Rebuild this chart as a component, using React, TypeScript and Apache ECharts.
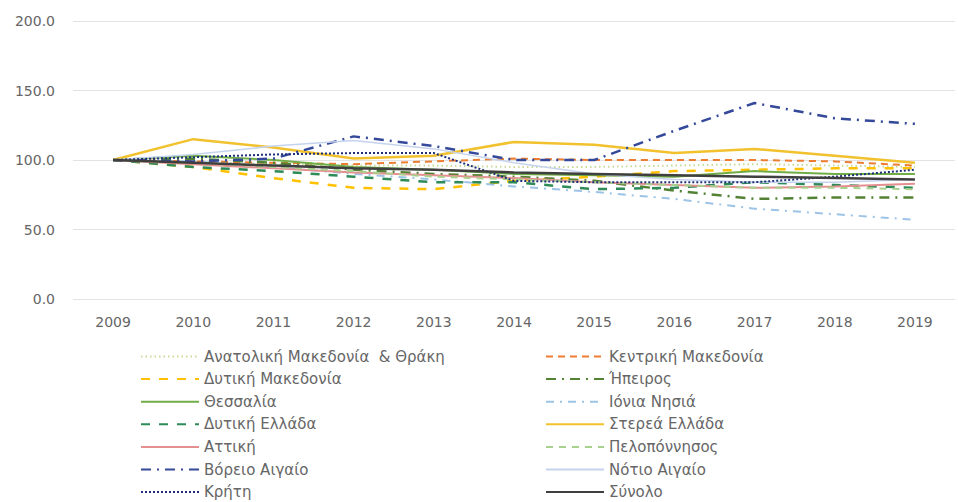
import React, { useEffect, useRef } from "react";
import * as echarts from "echarts";

const years = ["2009", "2010", "2011", "2012", "2013", "2014", "2015", "2016", "2017", "2018", "2019"];

const anatolikiMakedonia = [100, 99, 97, 96, 96, 95, 95, 96, 97, 96, 95];
const kentrikiMakedonia = [100, 99, 98, 97, 99, 101, 100, 100, 100, 99, 96];
const dytikiMakedonia = [100, 95, 87, 80, 79, 85, 88, 92, 93, 94, 94];
const ipeiros = [100, 101, 98, 93, 90, 88, 85, 78, 72, 73, 73];
const thessalia = [100, 103, 100, 95, 93, 90, 89, 88, 92, 90, 90];
const ioniaNisia = [100, 99, 95, 90, 86, 81, 77, 72, 65, 61, 57];
const dytikiEllada = [100, 95, 92, 88, 84, 84, 79, 80, 84, 82, 80];
const stereaEllada = [100, 115, 109, 101, 103, 113, 111, 105, 108, 103, 98];
const attiki = [100, 97, 94, 91, 89, 87, 84, 82, 80, 81, 83];
const peloponnisos = [100, 98, 95, 92, 88, 86, 84, 82, 80, 80, 79];
const voreioAigaio = [100, 99, 101, 117, 110, 100, 100, 121, 141, 130, 126];
const notioAigaio = [100, 104, 110, 114, 108, 98, 90, 86, 84, 84, 86];
const kriti = [100, 102, 104, 105, 105, 85, 84, 84, 84, 88, 93];
const synolo = [100, 98, 96, 94, 93, 91, 90, 89, 88, 87, 86];

const yTicks = [0, 50, 100, 150, 200];

const leftNames = [
  "Ανατολική Μακεδονία  & Θράκη",
  "Δυτική Μακεδονία",
  "Θεσσαλία",
  "Δυτική Ελλάδα",
  "Αττική",
  "Βόρειο Αιγαίο",
  "Κρήτη",
];
const rightNames = [
  "Κεντρική Μακεδονία",
  "Ήπειρος",
  "Ιόνια Νησιά",
  "Στερεά Ελλάδα",
  "Πελοπόννησος",
  "Νότιο Αιγαίο",
  "Σύνολο",
];

const seriesDefs: { name: string; data: number[]; color: string; width: number; type: any }[] = [
  { name: leftNames[0], data: anatolikiMakedonia, color: "#C9DA9A", width: 2, type: [1.5, 3] },
  { name: rightNames[0], data: kentrikiMakedonia, color: "#ED7D31", width: 2, type: [7, 5] },
  { name: leftNames[1], data: dytikiMakedonia, color: "#FFC000", width: 2.5, type: [9, 9] },
  { name: rightNames[1], data: ipeiros, color: "#548235", width: 2.5, type: [10, 6, 2, 6] },
  { name: leftNames[2], data: thessalia, color: "#70AD47", width: 2, type: "solid" },
  { name: rightNames[2], data: ioniaNisia, color: "#9DC3E6", width: 2, type: [8, 6, 2, 6] },
  { name: leftNames[3], data: dytikiEllada, color: "#2E8B57", width: 2.5, type: [9, 9] },
  { name: rightNames[3], data: stereaEllada, color: "#F2C12E", width: 2.5, type: "solid" },
  { name: leftNames[4], data: attiki, color: "#E59090", width: 2, type: "solid" },
  { name: rightNames[4], data: peloponnisos, color: "#A9D18E", width: 2, type: [7, 6] },
  { name: leftNames[5], data: voreioAigaio, color: "#34499A", width: 2.5, type: [10, 6, 2, 6] },
  { name: rightNames[5], data: notioAigaio, color: "#C5D3EE", width: 1.5, type: "solid" },
  { name: leftNames[6], data: kriti, color: "#1F2F7A", width: 2, type: [2, 2] },
  { name: rightNames[6], data: synolo, color: "#3F3F3F", width: 2.5, type: "solid" },
];

const FONT = "DejaVu Sans";
const TEXT = "#666666";

export default function App() {
  const ref = useRef<HTMLDivElement>(null);
  useEffect(() => {
    if (!ref.current) return;
    const chart = echarts.init(ref.current, undefined, { renderer: "svg" });
    const legendBase = {
      orient: "vertical" as const,
      top: 349,
      padding: 0,
      itemWidth: 58,
      itemHeight: 15,
      itemGap: 7.6,
      itemStyle: { opacity: 0 },
      textStyle: { color: TEXT, fontSize: 15, lineHeight: 15, fontFamily: FONT },
      selectedMode: false,
    };
    chart.setOption({
      animation: false,
      backgroundColor: "#ffffff",
      grid: { left: 73, right: 3, top: 21, height: 278 },
      legend: [
        { ...legendBase, left: 140, data: leftNames },
        { ...legendBase, left: 545, data: rightNames },
      ],
      xAxis: {
        type: "category",
        data: years,
        boundaryGap: true,
        axisLine: { show: false },
        axisTick: { show: false },
        axisLabel: { color: TEXT, fontSize: 14, fontFamily: FONT, margin: 16 },
      },
      yAxis: {
        type: "value",
        min: yTicks[0],
        max: yTicks[yTicks.length - 1],
        interval: 50,
        axisLine: { show: false },
        axisTick: { show: false },
        splitLine: { lineStyle: { color: "#E3E3E3", width: 1 } },
        axisLabel: {
          color: TEXT,
          fontSize: 14,
          fontFamily: FONT,
          margin: 18,
          formatter: (v: number) => v.toFixed(1),
        },
      },
      series: seriesDefs.map((s) => ({
        name: s.name,
        type: "line",
        data: s.data,
        symbol: "none",
        showSymbol: false,
        color: s.color,
        lineStyle: { color: s.color, width: s.width, type: s.type },
        z: s.name === "Σύνολο" ? 3 : 2,
      })),
    });
    return () => chart.dispose();
  }, []);
  return (
    <div
      ref={ref}
      style={{ position: "absolute", left: 0, top: 0, width: 958, height: 502, overflow: "hidden" }}
    />
  );
}
